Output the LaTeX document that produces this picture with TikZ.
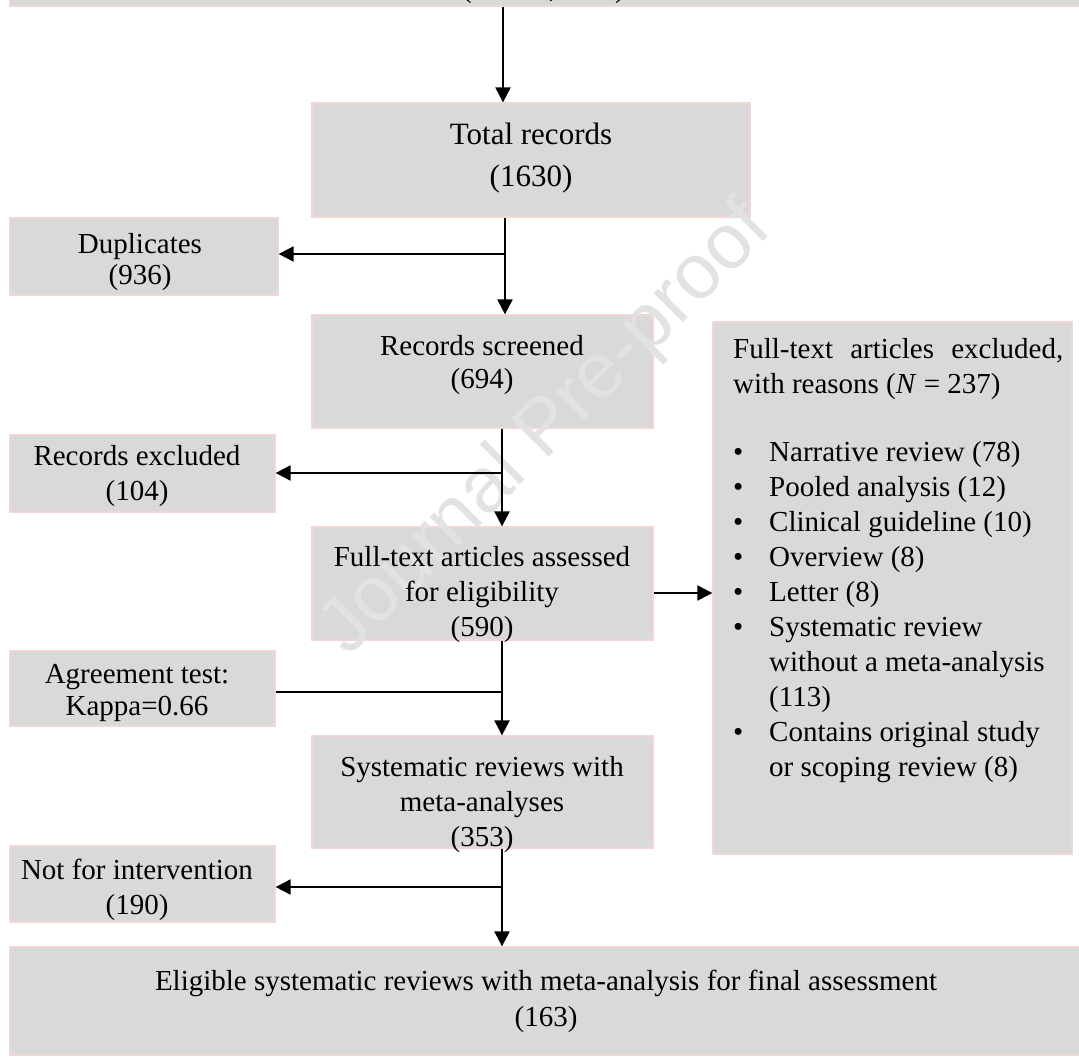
\documentclass[tikz,border=0pt]{standalone}
\usepackage{fontspec}
\setmainfont{Liberation Serif}
\newfontfamily\wmfont{Liberation Sans}
\usetikzlibrary{arrows.meta}
\definecolor{boxfill}{RGB}{217,217,217}
\definecolor{boxline}{RGB}{242,214,214}
\definecolor{wmgray}{RGB}{226,226,226}
\begin{document}
\begin{tikzpicture}[x=1pt,y=-1pt,
  box/.style={draw=boxline, fill=boxfill, line width=1.3pt, inner sep=0pt},
  txt/.style={align=center, inner sep=0pt, font=\fontsize{29}{35}\selectfont},
  conn/.style={line width=2.2pt, -{Triangle[length=15pt,width=15pt]}},
  plainline/.style={line width=1.8pt}]
\useasboundingbox (0,0) rectangle (1079,1058);
\clip (0,0) rectangle (1079,1058);
% boxes
\node[box, minimum width=1074pt, minimum height=66pt] (top) at (547,-27) {};
\node[box, minimum width=438pt, minimum height=114pt] (total) at (531,160) {};
\node[box, minimum width=268pt, minimum height=77pt] (dup) at (144,256.5) {};
\node[box, minimum width=341pt, minimum height=113pt] (screened) at (482.5,371.5) {};
\node[box, minimum width=265pt, minimum height=77pt] (recexcl) at (142.5,473.5) {};
\node[box, minimum width=341pt, minimum height=113pt] (assessed) at (482.5,583.5) {};
\node[box, minimum width=265pt, minimum height=75pt] (agree) at (142.5,688.5) {};
\node[box, minimum width=341pt, minimum height=112pt] (sysrev) at (482.5,792) {};
\node[box, minimum width=265pt, minimum height=76pt] (notint) at (142.5,884) {};
\node[box, minimum width=1074pt, minimum height=108pt] (final) at (547,1001) {};
\node[box, minimum width=359pt, minimum height=532pt] (ftexcl) at (892.5,588) {};
% watermark
\node[rotate=45, text=wmgray, inner sep=0pt, font=\wmfont\fontsize{78}{78}\selectfont] (wm) at (547,430) {Journal Pre-proof};
% texts
\node[anchor=base west, inner sep=0pt, font=\fontsize{29}{35}\selectfont] (toptxt) at (462,-3) {(\hspace{77pt},\hspace{59pt})};
\node[txt, font=\fontsize{31}{42}\selectfont] (totalt) at (531,158) {Total records\\(1630)};
\node[txt, font=\fontsize{29}{31}\selectfont] (dupt) at (140,262) {Duplicates\\(936)};
\node[txt, font=\fontsize{29}{33}\selectfont] (screenedt) at (482,365.5) {Records screened\\(694)};
\node[txt] (recexclt) at (137,476.5) {Records excluded\\(104)};
\node[txt] (assessedt) at (482,595) {Full-text articles assessed\\for eligibility\\(590)};
\node[txt, font=\fontsize{29}{32}\selectfont] (agreet) at (137,693) {Agreement test:\\Kappa=0.66};
\node[txt] (sysrevt) at (482,805) {Systematic reviews with\\meta-analyses\\(353)};
\node[txt] (notintt) at (137,889.5) {Not for intervention\\(190)};
\node[txt, font=\fontsize{29}{36}\selectfont] (finalt) at (546,1001) {Eligible systematic reviews with meta-analysis for final assessment\\(163)};
\node[anchor=base west, inner sep=0pt, font=\fontsize{29}{35}\selectfont] (ftexclt) at (733,358)
 {\parbox[t]{340pt}{\raggedright
  \makebox[330pt][s]{Full-text articles excluded,}\\
  with reasons (\textit{N} = 237)\\[33pt]
  \makebox[36pt][l]{\textbullet}Narrative review (78)\\
  \makebox[36pt][l]{\textbullet}Pooled analysis (12)\\
  \makebox[36pt][l]{\textbullet}Clinical guideline (10)\\
  \makebox[36pt][l]{\textbullet}Overview (8)\\
  \makebox[36pt][l]{\textbullet}Letter (8)\\
  \makebox[36pt][l]{\textbullet}Systematic review\\
  \hspace*{36pt}without a meta-analysis\\
  \hspace*{36pt}(113)\\
  \makebox[36pt][l]{\textbullet}Contains original study\\
  \hspace*{36pt}or scoping review (8)}};
% connectors
\coordinate (t0) at (503,0);
\coordinate (t1) at (505,0);
\coordinate (t2) at (502,0);
\coordinate (b1) at (505,254);
\coordinate (b2) at (502,473);
\coordinate (b3) at (0,593);
\coordinate (b4) at (502,692);
\coordinate (b5) at (502,887);
\draw[conn] (top.south -| t0) -- (total.north -| t0);
\draw[conn] (total.south -| t1) -- (screened.north -| t1);
\draw[conn] (b1) -- (dup.east |- b1);
\draw[conn] (screened.south -| t2) -- (assessed.north -| t2);
\draw[conn] (b2) -- (recexcl.east |- b2);
\draw[conn] (assessed.east |- b3) -- (ftexcl.west |- b3);
\draw[conn] (assessed.south -| t2) -- (sysrev.north -| t2);
\draw[plainline] (agree.east |- b4) -- (b4);
\draw[conn] (sysrev.south -| t2) -- (final.north -| t2);
\draw[conn] (b5) -- (notint.east |- b5);
\end{tikzpicture}
\end{document}
